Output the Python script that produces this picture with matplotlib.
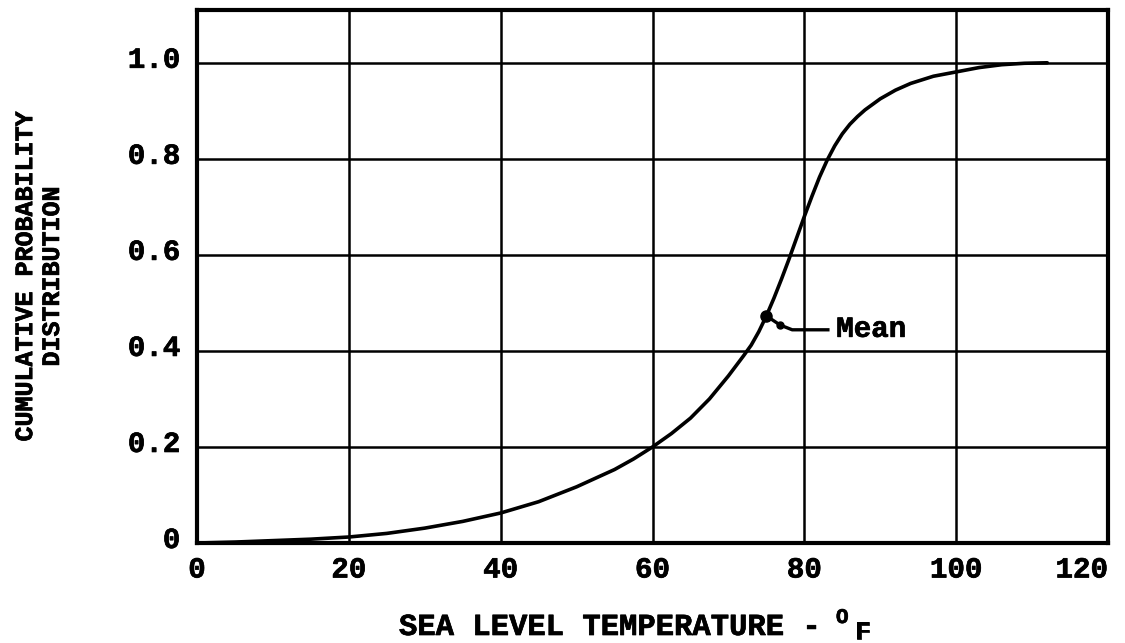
import matplotlib.pyplot as plt
import matplotlib.patheffects as pe
from matplotlib.transforms import ScaledTranslation

# values
temp_f = [0, 5, 10, 15, 20, 25, 30, 35, 40, 45, 50, 55, 57.5, 60, 62.5, 65, 67.5, 70, 72,
          73, 74, 75, 76, 77, 78, 79, 80, 81, 82, 83, 84, 85, 86, 87, 88, 90, 92, 94,
          97, 100, 103, 106, 109, 112]
cum_prob = [0.0, 0.002, 0.005, 0.008, 0.0125, 0.02, 0.031, 0.045, 0.0625, 0.086, 0.117,
            0.153, 0.175, 0.2, 0.228, 0.26, 0.3, 0.348, 0.39, 0.412, 0.44, 0.473, 0.51,
            0.55, 0.592, 0.636, 0.68, 0.722, 0.762, 0.797, 0.827, 0.852, 0.872, 0.888,
            0.902, 0.925, 0.943, 0.957, 0.972, 0.981, 0.99, 0.996, 0.999, 1.0]
mean_temp = 75
mean_prob = 0.473
# leader from the mean point to the label
leader_x = [75, 76.8, 78.4, 83.1]
leader_y = [0.473, 0.454, 0.444, 0.444]
x_ticks = [0, 20, 40, 60, 80, 100, 120]
y_ticks = [0, 0.2, 0.4, 0.6, 0.8, 1.0]
y_labels = ['0', '0.2', '0.4', '0.6', '0.8', '1.0']

bold = [pe.withStroke(linewidth=0.5, foreground='black')]
mono = dict(family='Liberation Mono', weight='bold')

fig = plt.figure(figsize=(11.25, 6.43), dpi=100)
ax = fig.add_axes([0.1751, 0.1555, 0.8098, 0.829])

ax.plot(temp_f, cum_prob, color='black', lw=2.6, solid_joinstyle='round',
        solid_capstyle='round')

# mean marker and leader line
ax.plot([mean_temp], [mean_prob], 'o', color='black', ms=8)
ax.plot(leader_x, leader_y, color='black', lw=2.4, solid_joinstyle='round')
ax.plot([leader_x[1]], [leader_y[1]], 'o', color='black', ms=5)
ax.text(84.2, 0.446, 'Mean', fontsize=21, va='center', ha='left',
        path_effects=bold, **mono)

ax.set_xlim(0, 120)
ax.set_ylim(0, 1.11)
ax.set_xticks(x_ticks)
ax.set_yticks(y_ticks)
ax.set_xticklabels([str(t) for t in x_ticks], fontsize=21, **mono)
ax.set_yticklabels(y_labels, fontsize=21, **mono)
ax.tick_params(length=0)
ax.tick_params(axis='x', pad=9)
ax.tick_params(axis='y', pad=12)
for lab in ax.get_xticklabels() + ax.get_yticklabels():
    lab.set_path_effects(bold)
ax.get_xticklabels()[-1].set_ha('right')
for lab in ax.get_yticklabels():
    lab.set_transform(lab.get_transform() + ScaledTranslation(0, 0.06, fig.dpi_scale_trans))

ax.grid(True, color='black', lw=1.8)
for s in ax.spines.values():
    s.set_linewidth(3)

# x axis title: text plus raised O and lowered F
fig.text(399 / 1125, 1 - 635 / 643, 'SEA LEVEL TEMPERATURE -', fontsize=22,
         va='baseline', ha='left', path_effects=bold, **mono)
fig.text(836 / 1125, 1 - 623 / 643, 'O', fontsize=15, va='baseline', ha='left',
         path_effects=bold, **mono)
fig.text(855 / 1125, 1 - 639 / 643, 'F', fontsize=19, va='baseline', ha='left',
         path_effects=bold, **mono)

ax.set_ylabel('CUMULATIVE PROBABILITY\nDISTRIBUTION', fontsize=18, linespacing=1.15,
              path_effects=bold, **mono)
ax.yaxis.set_label_coords(-0.146, 0.5)

fig.savefig('out.png', dpi=100, facecolor='white')
